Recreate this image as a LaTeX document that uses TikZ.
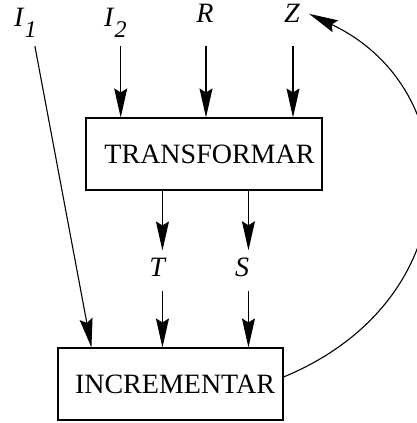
\documentclass[tikz,border=0pt]{standalone}
\usepackage{fontspec}
\setmainfont{Liberation Serif}
\usetikzlibrary{arrows.meta}
% italic letter with a large, lowered italic index
\newcommand\idxlabel[2]{\textit{#1}\raisebox{-11pt}{\fontsize{24}{24}\selectfont\textit{#2}}}
\begin{document}
\begin{tikzpicture}[x=1pt,y=-1pt,
  every node/.style={font=\fontsize{28}{28}\selectfont, inner sep=0pt},
  procbox/.style={draw, line width=1.1pt, minimum height=72pt},
  lab/.style={anchor=base},
  arr/.style={line width=1.1pt, -{Stealth[length=29pt,width=13pt,inset=4pt]}}]
\useasboundingbox (0,0) rectangle (417,423);

% process boxes
\node[procbox, minimum width=236pt] (tr) at (204,154) {\hspace*{11pt}TRANSFORMAR};
\node[procbox, minimum width=225pt] (inc) at (170.5,384) {\hspace*{9pt}INCREMENTAR};

% inputs and intermediate results
\node[anchor=base west] (I1) at (14,27) {\idxlabel{I}{1}};
\node[anchor=base west] (I2) at (104,27) {\idxlabel{I}{2}};
\node[lab] (R) at (205,23) {\textit{R}};
\node[lab] (Z) at (292,23) {\textit{Z}};
\node[lab] (T) at (158,276) {\textit{T}};
\node[lab] (S) at (242,276) {\textit{S}};

% inputs into TRANSFORMAR
\draw[arr] (I2.south) ++(5.3,8) coordinate (i2) -- (i2 |- tr.north);
\draw[arr] (R.south) ++(1,23) coordinate (r) -- (r |- tr.north);
\draw[arr] (Z.south) ++(1,23) coordinate (z) -- (z |- tr.north);

% outputs of TRANSFORMAR
\draw[arr, shorten >=7pt] (tr.south west) ++(77,0) coordinate (t0) -- (t0 |- T.north);
\draw[arr, shorten >=7pt] (tr.south west) ++(163,0) coordinate (s0) -- (s0 |- S.north);

% inputs into INCREMENTAR
\draw[arr] (I1.south) ++(9.5,8) -- ([xshift=34pt]inc.north west);
\draw[arr, shorten <=15pt] (t0 |- T.south) -- (t0 |- inc.north);
\draw[arr, shorten <=15pt] (s0 |- S.south) -- (s0 |- inc.north);

% feedback from INCREMENTAR back to Z
\draw[arr] ([yshift=7pt]inc.east) .. controls (470,300) and (470,90) .. ([xshift=9pt]Z.east);
\end{tikzpicture}
\end{document}
